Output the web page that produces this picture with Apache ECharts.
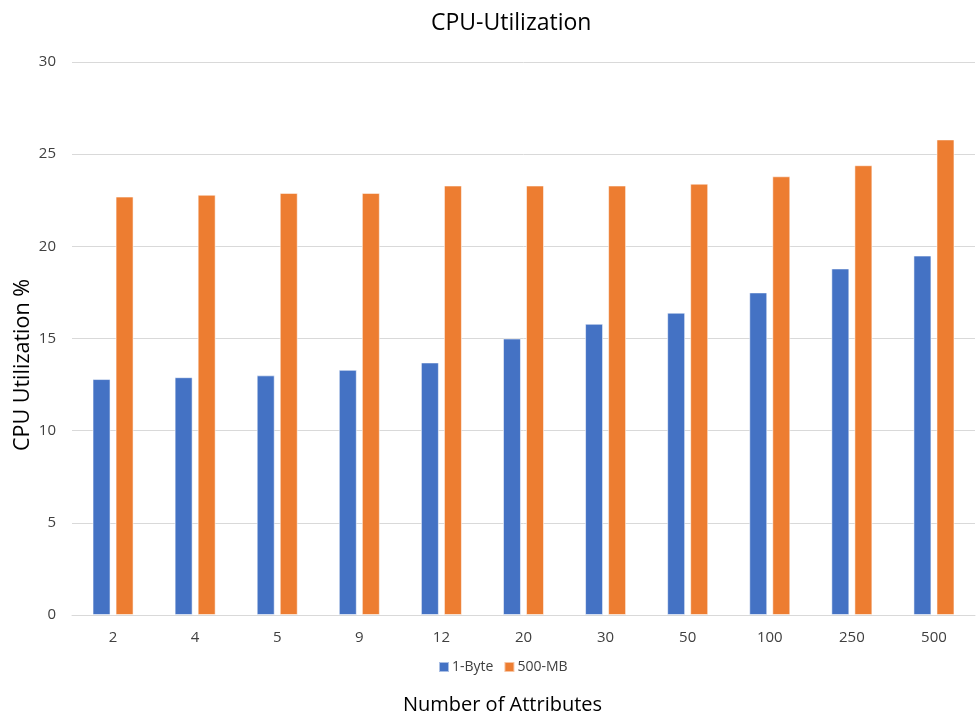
<!DOCTYPE html>
<html>
<head>
<meta charset="utf-8">
<script src="https://cdn.jsdelivr.net/npm/echarts@6/dist/echarts.min.js"></script>
<style>
  html, body { margin: 0; padding: 0; background: #fff; }
  #chart { width: 976px; height: 714px; }
</style>
</head>
<body>
<div id="chart"></div>
<script>
// Number of attributes per record
const categories = ['2', '4', '5', '9', '12', '20', '30', '50', '100', '250', '500'];
// CPU utilization (%) for each payload size
const oneByte = [12.8, 12.9, 13.0, 13.3, 13.7, 15.0, 15.8, 16.4, 17.5, 18.8, 19.5];
const fiveHundredMB = [22.7, 22.8, 22.9, 22.9, 23.3, 23.3, 23.3, 23.4, 23.8, 24.4, 25.8];
const seriesNames = ['1-Byte', '500-MB'];
const yTicks = { min: 0, max: 30, interval: 5 };

const FONT = "'Open Sans', 'Noto Sans', sans-serif";
const chart = echarts.init(document.getElementById('chart'), null, { renderer: 'canvas' });

chart.setOption({
  animation: false,
  textStyle: { fontFamily: FONT },
  title: {
    text: 'CPU-Utilization',
    left: 426,
    top: 7,
    textStyle: { fontFamily: FONT, fontSize: 23, fontWeight: 'normal', color: '#000' }
  },
  legend: {
    data: seriesNames,
    top: 655,
    left: 433,
    itemWidth: 10,
    itemHeight: 10,
    itemGap: 10,
    icon: 'rect',
    textStyle: { fontFamily: FONT, fontSize: 14, color: '#404040', padding: [0, 0, 0, -2] }
  },
  grid: { left: 72, right: 1, top: 62, bottom: 99, outerBoundsMode: 'none' },
  xAxis: {
    type: 'category',
    data: categories,
    name: 'Number of Attributes',
    nameLocation: 'middle',
    nameGap: 80,
    nameTextStyle: { fontFamily: FONT, fontSize: 20, color: '#000', padding: [0, 42, 0, 0] },
    axisLine: { lineStyle: { color: '#d9d9d9' } },
    axisTick: { show: false },
    axisLabel: { fontFamily: FONT, fontSize: 15, color: '#404040', margin: 15 }
  },
  yAxis: {
    type: 'value',
    min: yTicks.min,
    max: yTicks.max,
    interval: yTicks.interval,
    axisLine: { show: false },
    axisTick: { show: false },
    axisLabel: { fontFamily: FONT, fontSize: 15, color: '#404040', margin: 16 },
    splitLine: { lineStyle: { color: '#d9d9d9', width: 1 } }
  },
  graphic: [{
    type: 'text',
    x: 12,
    y: 365,
    rotation: Math.PI / 2,
    style: {
      text: 'CPU Utilization %',
      fontFamily: FONT,
      fontSize: 21.5,
      fill: '#000',
      align: 'center',
      verticalAlign: 'top'
    }
  }],
  series: [
    {
      name: seriesNames[0],
      type: 'bar',
      data: oneByte,
      barWidth: 18,
      barGap: '28%',
      itemStyle: { color: '#4472C4', borderColor: 'rgba(255,255,255,0.55)', borderWidth: 1 }
    },
    {
      name: seriesNames[1],
      type: 'bar',
      data: fiveHundredMB,
      barWidth: 18,
      itemStyle: { color: '#ED7D31', borderColor: 'rgba(255,255,255,0.55)', borderWidth: 1 }
    }
  ]
});
</script>
</body>
</html>
